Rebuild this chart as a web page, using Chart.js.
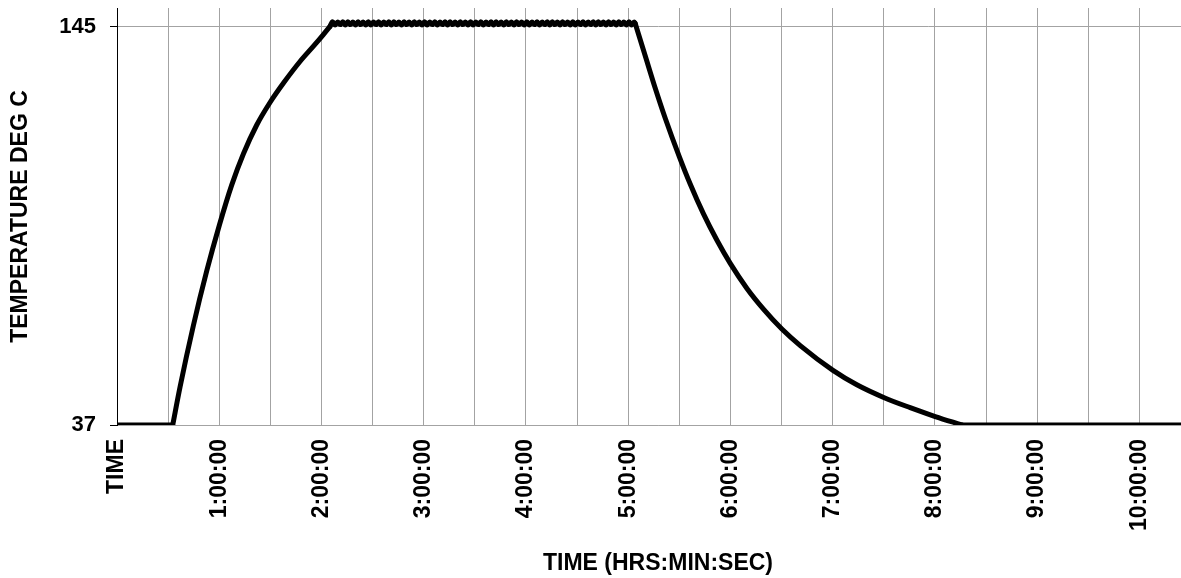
<!DOCTYPE html>
<html>
<head>
<meta charset="utf-8">
<script src="https://cdn.jsdelivr.net/npm/chart.js@4/dist/chart.umd.min.js"></script>
<style>
  html, body { margin: 0; padding: 0; background: #fff; overflow: hidden; }
  #wrap { width: 1181px; height: 578px; overflow: hidden; }
</style>
</head>
<body>
<div id="wrap"><canvas id="chart" width="1199" height="578"></canvas></div>
<script>
// ---- data (time in minutes, temperature in deg C) ----
const startMinutes = [0, 32.7];
const startTemps   = [37, 37];

const riseMinutes = [32.7, 37, 44.8, 52.7, 60.1, 67.3, 74.2, 82, 89.8, 97.6, 107.4, 115.3, 121.1, 125];
const riseTemps   = [37, 47.3, 63.9, 78.8, 91.2, 102, 110.5, 118.3, 124.4, 129.6, 135.5, 139.65, 142.8, 145.0];

const holdMinutes = [125,
  126.5,128,129.5,131,132.5,134,135.5,137,138.5,140,
  141.5,143,144.5,146,147.5,149,150.5,152,153.5,155,
  156.5,158,159.5,161,162.5,164,165.5,167,168.5,170,
  171.5,173,174.5,176,177.5,179,180.5,182,183.5,185,
  186.5,188,189.5,191,192.5,194,195.5,197,198.5,200,
  201.5,203,204.5,206,207.5,209,210.5,212,213.5,215,
  216.5,218,219.5,221,222.5,224,225.5,227,228.5,230,
  231.5,233,234.5,236,237.5,239,240.5,242,243.5,245,
  246.5,248,249.5,251,252.5,254,255.5,257,258.5,260,
  261.5,263,264.5,266,267.5,269,270.5,272,273.5,275,
  276.5,278,279.5,281,282.5,284,285.5,287,288.5,290,
  291.5,293,294.5,296,297.5,299,300.5,302,303.5,
  304.1
];
const holdTemps = [145.0,
  146.3,145.4,146.2,145.5,146.3,145.4,146.3,145.5,146.2,145.4,
  146.3,145.5,146.2,145.4,146.3,145.4,146.2,145.5,146.3,145.4,
  146.2,145.5,146.3,145.4,146.3,145.5,146.2,145.4,146.3,145.5,
  146.2,145.4,146.3,145.5,146.2,145.4,146.3,145.4,146.2,145.5,
  146.3,145.4,146.2,145.5,146.3,145.4,146.3,145.5,146.2,145.4,
  146.3,145.5,146.2,145.4,146.3,145.4,146.2,145.5,146.3,145.4,
  146.2,145.5,146.3,145.4,146.3,145.5,146.2,145.4,146.3,145.5,
  146.2,145.4,146.3,145.5,146.2,145.4,146.3,145.4,146.2,145.5,
  146.3,145.4,146.2,145.5,146.3,145.4,146.3,145.5,146.2,145.4,
  146.3,145.5,146.2,145.4,146.3,145.4,146.2,145.5,146.3,145.4,
  146.2,145.5,146.3,145.4,146.3,145.5,146.2,145.4,146.3,145.5,
  146.2,145.4,146.3,145.5,146.2,145.4,146.3,145.4,146.2,
  145.85
];

const coolMinutes = [304.1, 309.9, 315.8, 321.7, 330.1, 336.4, 344.2, 352.1, 359.9, 369.7,
                     379.4, 390.2, 401, 420.2, 434.2, 450.3, 465.5, 480.2, 495.9];
const coolTemps   = [145.85, 137.2, 128.4, 120.2, 109.6, 102.3, 94.2, 87.05, 80.8, 74,
                     68.4, 63, 58.5, 51.8, 47.9, 44.4, 41.7, 39.3, 37];

const endMinutes = [495.9, 635];
const endTemps   = [37, 37];

const xLabels = ['TIME', '1:00:00', '2:00:00', '3:00:00', '4:00:00', '5:00:00',
                 '6:00:00', '7:00:00', '8:00:00', '9:00:00', '10:00:00'];
const yTicks = [37, 145];
const xTitle = 'TIME (HRS:MIN:SEC)';
const yTitle = 'TEMPERATURE DEG C';

// ---- build the trace: one dataset per stage, joined with round caps ----
function stage(minutes, temps) {
  return {
    data: minutes.map((m, i) => ({ x: m, y: temps[i] })),
    borderColor: '#000',
    borderWidth: 5,
    borderCapStyle: 'round',
    borderJoinStyle: 'round',
    pointRadius: 0,
    fill: false,
    cubicInterpolationMode: 'monotone'
  };
}

const FONT = "'Liberation Sans', Arial, sans-serif";
const GRID = '#a3a3a3';
const bold = size => ({ family: FONT, size, weight: 'bold' });

new Chart(document.getElementById('chart'), {
  type: 'line',
  data: {
    datasets: [
      stage(startMinutes, startTemps),
      stage(riseMinutes, riseTemps),
      stage(holdMinutes, holdTemps),
      stage(coolMinutes, coolTemps),
      stage(endMinutes, endTemps)
    ]
  },
  options: {
    responsive: false,
    animation: false,
    layout: { padding: { top: 8, left: 0, right: 0, bottom: 0 } },
    plugins: { legend: { display: false }, tooltip: { enabled: false } },
    scales: {
      x: {
        type: 'linear', min: 0, max: 635,
        border: { color: GRID, width: 1 },
        grid: {
          color: ctx => (ctx.tick && ctx.tick.value === 0) ? 'rgba(0,0,0,0)' : GRID,
          drawTicks: false
        },
        ticks: {
          stepSize: 30, includeBounds: false, autoSkip: false,
          minRotation: 90, maxRotation: 90, padding: 14,
          color: '#000', font: bold(23),
          callback: v => (v % 60 === 0 ? (xLabels[v / 60] || '') : '')
        },
        title: { display: true, text: xTitle, color: '#000', font: bold(23), padding: { top: 0, bottom: 1 } },
        afterFit: s => { s.height = 153; s.paddingLeft = 0; s.paddingRight = 0; }
      },
      y: {
        min: 37, max: 150,
        afterBuildTicks: s => { s.ticks = yTicks.map(v => ({ value: v })); },
        border: { color: '#000', width: 1 },
        grid: { color: GRID, tickColor: '#000', tickLength: 7 },
        ticks: { padding: 14, color: '#000', font: bold(22) },
        title: { display: true, text: yTitle, color: '#000', font: bold(23), padding: { top: 7, bottom: 0 } },
        afterFit: s => { s.width = 117; s.paddingTop = 0; s.paddingBottom = 0; }
      }
    }
  }
});
</script>
</body>
</html>
